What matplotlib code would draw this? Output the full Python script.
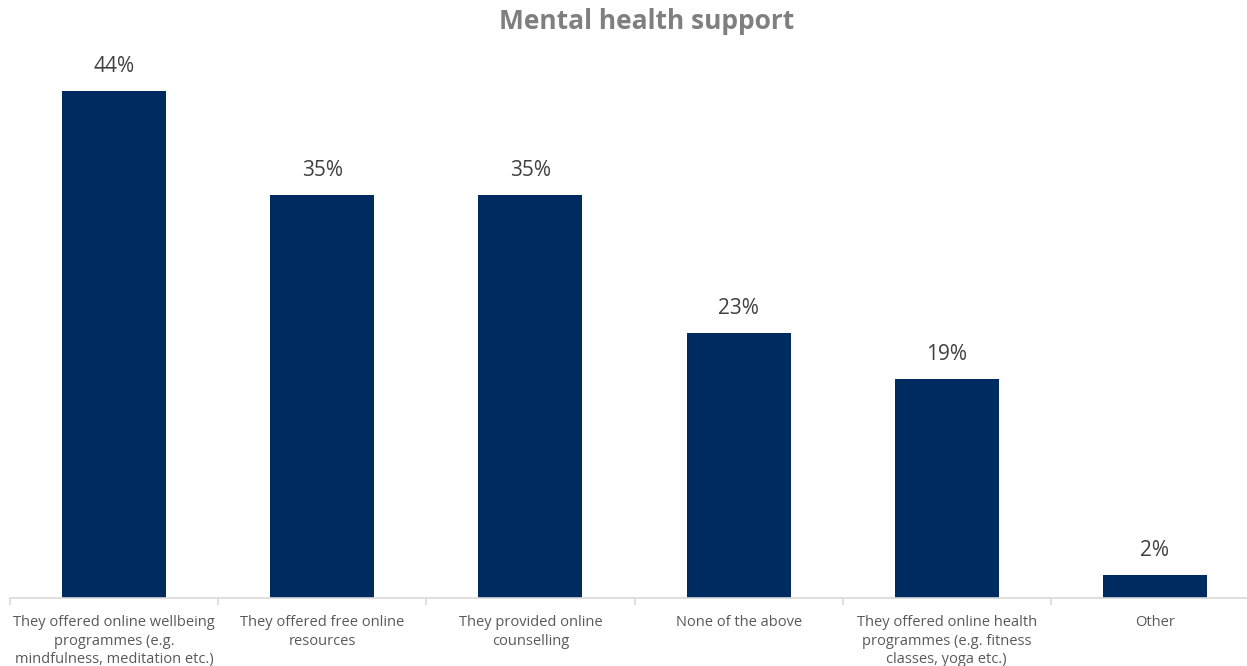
import matplotlib.pyplot as plt
import numpy as np

# data
categories = ['They offered online wellbeing\nprogrammes (e.g.\nmindfulness, meditation etc.)',
              'They offered free online\nresources',
              'They provided online\ncounselling',
              'None of the above',
              'They offered online health\nprogrammes (e.g. fitness\nclasses, yoga etc.)',
              'Other']
values = [44, 35, 35, 23, 19, 2]

plt.rcParams['font.family'] = ['Open Sans', 'DejaVu Sans']

fig = plt.figure(figsize=(12.47, 6.66), dpi=100)
# axes runs a bit past the right edge, as in the original
ax = fig.add_axes([10/1247, 68/666, 1249/1247, 576/666])

x = np.arange(len(categories))
ax.bar(x, values, width=0.5, color='#002B60')
for xi, v in zip(x, values):
    ax.text(xi, v + 1.2, '%d%%' % v, ha='center', va='bottom', fontsize=15, color='#404040')

ax.set_xlim(-0.5, len(categories) - 0.5)
ax.set_ylim(0, 50)
ax.set_yticks([])
for s in ['top', 'right', 'left']:
    ax.spines[s].set_visible(False)
ax.spines['bottom'].set_color('#D9D9D9')
ax.spines['bottom'].set_linewidth(1.2)

ax.set_xticks(x)
ax.set_xticklabels(categories, fontsize=10.5, color='#595959', linespacing=1.35)
ax.tick_params(axis='x', which='major', length=0, pad=12)
ax.set_xticks(np.arange(-0.5, len(categories)), minor=True)
ax.tick_params(axis='x', which='minor', length=5, color='#D9D9D9', width=1.2)

fig.text(647/1247, 0.968, 'Mental health support', ha='center', va='center',
         fontsize=19, fontweight='bold', color='#7F7F7F')

fig.savefig('out.png', dpi=100)
